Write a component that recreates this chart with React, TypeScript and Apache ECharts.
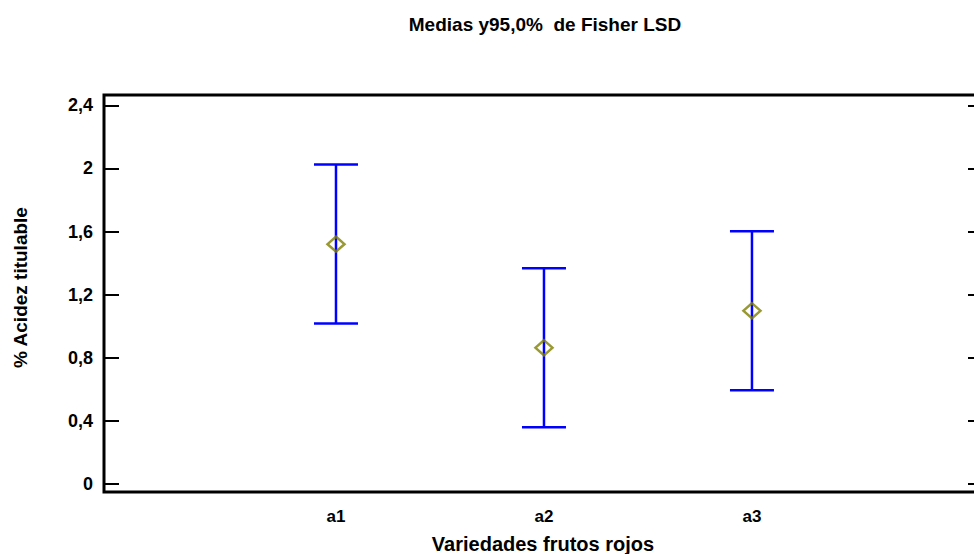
import React, { useEffect, useRef } from 'react';
import * as echarts from 'echarts';

const categories = ['a1', 'a2', 'a3'];
const means = [1.52, 0.864, 1.098];
const lower = [1.017, 0.36, 0.595];
const upper = [2.025, 1.368, 1.602];
const yTicks = [0, 0.4, 0.8, 1.2, 1.6, 2, 2.4];
const xPositions = [1, 2, 3];

const FONT = '"Liberation Sans", Arial, sans-serif';

export default function App() {
  const ref = useRef<HTMLDivElement>(null);
  useEffect(() => {
    if (!ref.current) return;
    const chart = echarts.init(ref.current, null, { renderer: 'svg' });
    const errData = xPositions.map((x, i) => [x, lower[i], upper[i]]);
    const meanData = xPositions.map((x, i) => [x, means[i]]);
    chart.setOption({
      animation: false,
      backgroundColor: '#fff',
      textStyle: { fontFamily: FONT },
      title: {
        text: 'Medias y95,0%  de Fisher LSD',
        left: 540,
        top: 10,
        textAlign: 'center',
        textStyle: { fontFamily: FONT, fontWeight: 'bold', fontSize: 19, color: '#000' },
      },
      grid: {
        left: 104,
        top: 95,
        right: 8,
        bottom: 62,
        show: true,
        borderColor: '#000',
        borderWidth: 3,
        backgroundColor: 'transparent',
        containLabel: false,
        outerBoundsMode: 'none',
      },
      xAxis: {
        type: 'value',
        min: -0.1154,
        max: 4.106,
        name: 'Variedades frutos rojos',
        nameLocation: 'middle',
        nameGap: 42,
        nameTextStyle: { fontFamily: FONT, fontWeight: 'bold', fontSize: 20, color: '#000' },
        axisLine: { show: false, onZero: false },
        axisTick: { show: false },
        splitLine: { show: false },
        axisLabel: {
          customValues: xPositions,
          formatter: (v: number) => categories[Math.round(v) - 1] ?? '',
          margin: 16,
          fontFamily: FONT,
          fontWeight: 'bold',
          fontSize: 17,
          color: '#000',
        },
      },
      yAxis: [
        {
          type: 'value',
          min: -0.05,
          max: 2.465,
          position: 'left',
          name: '% Acidez titulable',
          nameLocation: 'middle',
          nameGap: 74,
          nameRotate: 90,
          nameTextStyle: {
            fontFamily: FONT,
            fontWeight: 'bold',
            fontSize: 19,
            color: '#000',
            padding: [0, 0, 0, 12],
          },
          axisLine: { show: false, onZero: false },
          splitLine: { show: false },
          axisTick: {
            show: true,
            inside: true,
            length: 15,
            customValues: yTicks,
            lineStyle: { color: '#000', width: 2 },
          },
          axisLabel: {
            customValues: yTicks,
            formatter: (v: number) => String(Math.round(v * 10) / 10).replace('.', ','),
            margin: 11,
            fontFamily: FONT,
            fontWeight: 'bold',
            fontSize: 18,
            color: '#000',
          },
        },
        {
          type: 'value',
          min: -0.05,
          max: 2.465,
          position: 'right',
          axisLine: { show: false, onZero: false },
          splitLine: { show: false },
          axisTick: {
            show: true,
            inside: true,
            length: 14,
            customValues: yTicks,
            lineStyle: { color: '#000', width: 2 },
          },
          axisLabel: { show: false },
        },
      ],
      series: [
        {
          type: 'custom',
          data: errData,
          renderItem: (params: any, api: any) => {
            const x = api.value(0);
            const lo = api.coord([x, api.value(1)]);
            const hi = api.coord([x, api.value(2)]);
            const half = 22;
            const style = { stroke: '#0000ff', lineWidth: 2.5 };
            return {
              type: 'group',
              children: [
                { type: 'line', shape: { x1: lo[0], y1: lo[1], x2: hi[0], y2: hi[1] }, style },
                { type: 'line', shape: { x1: hi[0] - half, y1: hi[1], x2: hi[0] + half, y2: hi[1] }, style },
                { type: 'line', shape: { x1: lo[0] - half, y1: lo[1], x2: lo[0] + half, y2: lo[1] }, style },
              ],
            };
          },
          z: 2,
        },
        {
          type: 'scatter',
          data: meanData,
          symbol: 'diamond',
          symbolSize: [17, 15],
          itemStyle: { color: 'rgba(0,0,0,0)', borderColor: '#808000', borderWidth: 2.5 },
          z: 3,
        },
      ],
    });
    return () => chart.dispose();
  }, []);
  return (
    <div
      style={{ position: 'fixed', left: 0, top: 0, width: 974, height: 554, overflow: 'hidden' }}
    >
      <div ref={ref} style={{ width: 990, height: 554 }} />
    </div>
  );
}
